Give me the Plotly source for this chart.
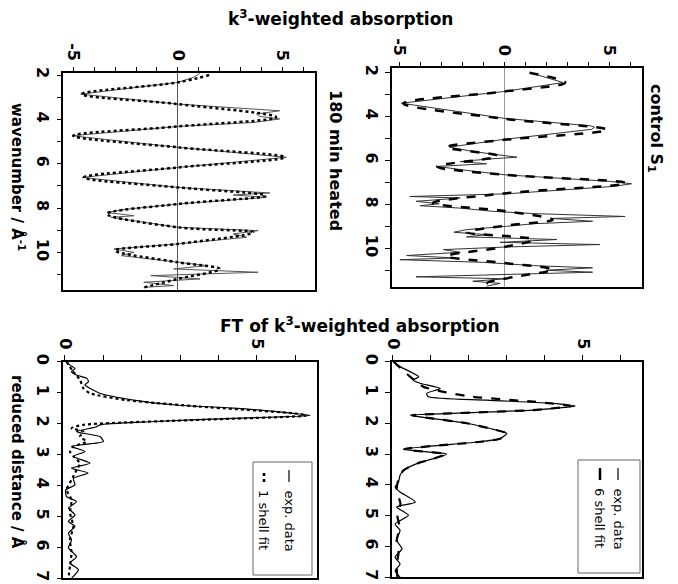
import plotly.graph_objects as go

# page body has an 8px margin, so the figure is drawn 8px in from the top-left corner
OFF = 8
W, H = 678 - OFF, 584 - OFF

# ---------------- data ----------------
# 180 min heated, k-space (wavenumber / value)
heat_exp_k = [1.92, 2.1, 2.33, 2.86, 3.31, 3.61, 3.76, 3.86, 3.98, 4.14, 4.32, 4.74, 5.26, 5.71, 6.17,
              6.62, 7.07, 7.32, 7.41, 7.52, 7.82, 8.05, 8.2, 8.35, 8.42, 8.87, 9.02, 9.17, 9.32, 9.62,
              9.85, 10.0, 10.15, 10.45, 10.6, 10.75, 10.9, 11.05, 11.2, 11.35, 11.5, 11.58]
heat_exp_v = [1.06, 0.75, 0.0, -4.65, 0.0, 4.87, 3.76, 3.9, 4.87, 3.6, 0.0, -5.05, 0.0, 5.19, 0.0,
              -4.57, 0.0, 4.4, 2.65, 4.24, 0.0, -2.43, -3.38, -2.1, -3.2, 0.0, 3.84, 2.65, 3.3, 0.0,
              -3.06, -2.1, -2.7, 0.0, 1.4, -0.2, 3.84, -1.3, 1.06, -1.63, -0.2, -1.63]
heat_fit_k = [2.0, 2.33, 2.86, 3.31, 3.9, 4.32, 4.74, 5.26, 5.71, 6.17, 6.62, 7.07, 7.44, 7.82,
              8.27, 8.87, 9.1, 9.62, 9.92, 10.45, 10.75, 11.2, 11.58]
heat_fit_v = [1.5, 0.0, -4.6, 0.0, 4.7, 0.0, -5.0, 0.0, 5.1, 0.0, -4.5, 0.0, 4.2, 0.0,
              -3.4, 0.0, 3.6, 0.0, -3.0, 0.0, 2.0, 0.0, -1.6]

# control S1, k-space
ctrl_exp_k = [2.0, 2.45, 2.86, 3.39, 4.08, 4.42, 4.48, 4.58, 5.06, 5.39, 5.59, 5.74, 5.85, 5.94, 6.05,
              6.15, 6.27, 6.45, 6.65, 6.95, 7.06, 7.18, 7.52, 7.64, 7.71, 7.86, 7.97, 8.06, 8.17, 8.32,
              8.42, 8.55, 8.64, 8.77, 8.88, 9.0, 9.15, 9.27, 9.38, 9.48, 9.6, 9.73, 9.83, 9.94, 10.06,
              10.18, 10.33, 10.44, 10.52, 10.64, 10.79, 10.89, 11.0, 11.09, 11.2, 11.3, 11.39, 11.5,
              11.6, 11.73]
ctrl_exp_v = [1.22, 2.8, -0.05, -4.9, 0.0, 4.1, 4.3, 4.15, -0.2, -2.6, -1.5, -0.2, 0.6, -0.85, -2.1,
              -0.85, -3.2, -1.8, 0.0, 5.0, 6.06, 5.2, 0.1, -4.5, -2.1, -4.2, -3.1, -4.0, -2.1, -0.5,
              1.4, 5.75, 2.3, 4.2, 1.4, 0.1, -1.8, -2.4, -0.85, -1.8, 2.5, -0.2, 4.55, 0.1, -2.9,
              -2.1, -4.65, -2.3, -4.97, -1.0, 1.4, 4.2, 2.0, 4.2, -0.85, -4.2, 0.1, -1.5, -0.2, -0.85]
ctrl_fit_k = [2.0, 2.45, 2.86, 3.4, 4.1, 4.6, 5.06, 5.4, 5.8, 6.27, 6.65, 7.03, 7.5, 7.94, 8.3,
              8.7, 8.95, 9.27, 9.6, 9.94, 10.36, 10.67, 10.97, 11.3, 11.58, 11.73]
ctrl_fit_v = [1.2, 2.9, 0.0, -4.8, 0.0, 4.9, 0.0, -2.75, -0.3, -3.2, 0.0, 5.8, 0.0, -3.4, 0.0,
              2.3, 0.2, -1.8, 1.4, 0.0, -2.75, 0.0, 2.3, 0.5, -0.8, -0.5]

# 180 min heated, FT (reduced distance / magnitude)
heat_ft_exp_r = [0.0, 0.11, 0.22, 0.32, 0.43, 0.54, 0.65, 0.75, 0.86, 1.02, 1.24, 1.4, 1.5, 1.67, 1.74,
                 1.83, 1.94, 2.04, 2.11, 2.26, 2.42, 2.58, 2.74, 2.9, 3.06, 3.28, 3.44, 3.6, 3.77, 3.98,
                 4.14, 4.36, 4.52, 4.73, 4.95, 5.16, 5.32, 5.54, 5.76, 6.02, 6.3, 6.51, 6.72, 7.0]
heat_ft_exp_v = [0.04, 0.13, 0.26, 0.17, 0.3, 0.57, 0.61, 0.52, 0.65, 0.91, 1.78, 2.9, 4.4, 5.96, 6.4,
                 4.4, 2.2, 0.91, 0.8, 0.3, 0.91, 1.0, 0.17, 0.52, 0.22, 0.65, 0.17, 0.6, 0.22, 0.26,
                 0.02, 0.04, 0.3, 0.09, 0.26, 0.09, 0.26, 0.09, 0.17, 0.09, 0.3, 0.13, 0.35, 0.17]
heat_ft_fit_r = [0.0, 0.3, 0.59, 0.86, 1.02, 1.24, 1.45, 1.67, 1.74, 1.88, 2.04, 2.15, 2.26, 2.42,
                 2.58, 2.74, 2.9, 3.06, 3.28, 3.5, 3.82, 4.14, 4.46, 4.89, 5.32, 5.75, 6.18, 6.61, 7.0]
heat_ft_fit_v = [0.04, 0.2, 0.39, 0.48, 0.65, 1.6, 3.5, 5.96, 6.3, 3.5, 0.48, 0.17, 0.48, 0.39,
                 0.56, 0.22, 0.13, 0.22, 0.39, 0.3, 0.17, 0.04, 0.17, 0.13, 0.22, 0.13, 0.17, 0.13, 0.09]

# control S1, FT
ctrl_ft_exp_r = [0.0, 0.16, 0.33, 0.49, 0.6, 0.7, 0.87, 1.03, 1.14, 1.25, 1.36, 1.44, 1.57, 1.68, 1.74,
                 1.85, 2.0, 2.17, 2.33, 2.5, 2.6, 2.84, 2.93, 3.0, 3.15, 3.31, 3.53, 3.69, 3.91, 4.07,
                 4.23, 4.56, 4.72, 4.99, 5.27, 5.48, 5.8, 6.08, 6.35, 6.57, 6.79, 7.0]
ctrl_ft_exp_v = [0.02, 0.19, 0.46, 0.68, 0.54, 0.72, 1.25, 0.89, 0.94, 2.47, 4.3, 4.8, 3.7, 1.5, 0.46,
                 1.07, 1.95, 2.56, 3.0, 2.82, 2.3, 0.28, 0.9, 1.42, 1.07, 0.63, 0.28, 0.19, 0.15, 0.06,
                 0.19, 0.59, 0.1, 0.41, 0.06, 0.19, 0.1, 0.24, 0.06, 0.19, 0.06, 0.19]
ctrl_ft_fit_r = [0.0, 0.49, 0.81, 0.98, 1.14, 1.3, 1.44, 1.57, 1.68, 1.74, 1.85, 2.0, 2.17, 2.33, 2.5,
                 2.6, 2.84, 2.93, 3.0, 3.15, 3.31, 3.53, 3.8, 4.2, 4.6, 5.0, 5.4, 5.8, 6.2, 6.6, 7.0]
ctrl_ft_fit_v = [0.02, 0.46, 0.8, 1.33, 2.1, 3.7, 4.67, 3.7, 1.5, 0.5, 1.07, 1.95, 2.56, 3.0, 2.82,
                 2.3, 0.3, 0.9, 1.4, 1.07, 0.63, 0.28, 0.15, 0.1, 0.2, 0.12, 0.18, 0.1, 0.15, 0.1, 0.12]

k_ticks = [-5, 0, 5]
k_ticktext = ["-5", "0", "5"]
ft_ticks = [0, 5]
ft_ticktext = ["0", "5"]

# ---------------- figure ----------------
fig = go.Figure()

def PX(x):
    return (x - OFF) / W

def PY(y):
    return 1 - (y - OFF) / H

def px_dom_x(a, b):
    return [PX(a), PX(b)]

def px_dom_y(top, bottom):
    return [PY(bottom), PY(top)]

fig.add_trace(go.Scatter(x=heat_exp_v, y=heat_exp_k, mode="lines", xaxis="x", yaxis="y",
                         line=dict(color="#555", width=1), showlegend=False))
fig.add_trace(go.Scatter(x=heat_fit_v, y=heat_fit_k, mode="lines", xaxis="x", yaxis="y",
                         line=dict(color="black", width=2.5, dash="dot", shape="spline", smoothing=1.0),
                         showlegend=False))
fig.add_trace(go.Scatter(x=ctrl_exp_v, y=ctrl_exp_k, mode="lines", xaxis="x2", yaxis="y2",
                         line=dict(color="#333", width=1), showlegend=False))
fig.add_trace(go.Scatter(x=ctrl_fit_v, y=ctrl_fit_k, mode="lines", xaxis="x2", yaxis="y2",
                         line=dict(color="black", width=2.5, dash="dash", shape="spline", smoothing=1.0),
                         showlegend=False))
fig.add_trace(go.Scatter(x=heat_ft_exp_v, y=heat_ft_exp_r, mode="lines", xaxis="x3", yaxis="y3",
                         line=dict(color="black", width=1.2, shape="spline", smoothing=0.6), showlegend=False))
fig.add_trace(go.Scatter(x=heat_ft_fit_v, y=heat_ft_fit_r, mode="lines", xaxis="x3", yaxis="y3",
                         line=dict(color="black", width=2.2, dash="dot", shape="spline", smoothing=0.6),
                         showlegend=False))
fig.add_trace(go.Scatter(x=ctrl_ft_exp_v, y=ctrl_ft_exp_r, mode="lines", xaxis="x4", yaxis="y4",
                         line=dict(color="black", width=1.2, shape="spline", smoothing=0.6), showlegend=False))
fig.add_trace(go.Scatter(x=ctrl_ft_fit_v, y=ctrl_ft_fit_r, mode="lines", xaxis="x4", yaxis="y4",
                         line=dict(color="black", width=2.2, dash="dash", shape="spline", smoothing=0.6),
                         showlegend=False))

tickfont = dict(family="DejaVu Sans", size=16, color="black", weight="bold")

def vaxis(dom, rng, tickvals, ticktext, zero, zcol, anchor):
    return dict(domain=dom, range=rng, side="top", tickmode="array", tickvals=tickvals,
                ticktext=ticktext, anchor=anchor, automargin=False,
                ticks="outside", ticklen=5, tickwidth=1, tickcolor="black",
                minor=dict(dtick=1, tick0=0, ticks="outside", ticklen=5, tickwidth=1, tickcolor="black"),
                tickangle=90, tickfont=tickfont, showline=True, linecolor="black", linewidth=1.5,
                mirror=True, showgrid=False, zeroline=zero, zerolinecolor=zcol, zerolinewidth=1)

def kaxis(dom, rng, anchor, dtick, minor):
    d = dict(domain=dom, range=rng, anchor=anchor, tick0=0, dtick=dtick, automargin=False,
             ticks="outside", ticklen=5, tickwidth=1, tickcolor="black",
             tickangle=90, tickfont=tickfont, showline=True, linecolor="black", linewidth=1.5,
             mirror=True, showgrid=False, zeroline=False)
    if minor:
        d["minor"] = dict(dtick=1, tick0=0, ticks="outside", ticklen=5, tickwidth=1, tickcolor="black")
    return d

fig.update_layout(
    width=W, height=H, margin=dict(l=0, r=0, t=0, b=0, autoexpand=False),
    paper_bgcolor="white", plot_bgcolor="white",
    xaxis=vaxis(px_dom_x(63.3, 315), [-5.48, 6.56], k_ticks, k_ticktext, True, "#555", "y"),
    yaxis=kaxis(px_dom_y(73.3, 290), [11.70, 1.92], "x", 2, True),
    xaxis2=vaxis(px_dom_x(391.7, 641.7), [-5.36, 6.54], k_ticks, k_ticktext, True, "#999", "y2"),
    yaxis2=kaxis(px_dom_y(68.3, 286.7), [11.75, 1.80], "x2", 2, True),
    xaxis3=vaxis(px_dom_x(63.3, 316.7), [-0.044, 6.56], ft_ticks, ft_ticktext, False, "#999", "y3"),
    yaxis3=kaxis(px_dom_y(361.7, 578.3), [7, 0], "x3", 1, False),
    xaxis4=vaxis(px_dom_x(391.7, 641.7), [-0.03, 6.55], ft_ticks, ft_ticktext, False, "#999", "y4"),
    yaxis4=kaxis(px_dom_y(361.7, 577.3), [7.003, 0], "x4", 1, False),
)

def ann(text, xp, yp, size, angle=0, bold=True):
    fig.add_annotation(text=text, x=PX(xp), y=PY(yp), xref="paper", yref="paper",
                       showarrow=False, textangle=angle, xanchor="center", yanchor="middle",
                       font=dict(family="DejaVu Sans", size=size, color="black",
                                 weight="bold" if bold else "normal"))

ann("k<sup>3</sup>-weighted absorption", 340, 18, 17)
ann("FT of k<sup>3</sup>-weighted absorption", 360, 325, 17)
ann("wavenumber / Å<sup>-1</sup>", 18, 177, 15, 90)
ann("180 min heated", 335, 160, 16, 90)
ann("control S<sub>1</sub>", 656, 128, 16, 90)
ann("reduced distance / Å", 18, 462, 15, 90)

def legend(x0, x1, y0, y1, col1, col2, label2, dash):
    fig.add_shape(type="rect", xref="paper", yref="paper", x0=PX(x0), x1=PX(x1),
                  y0=PY(y1), y1=PY(y0), line=dict(color="#666", width=1), fillcolor="white",
                  layer="above")
    fig.add_shape(type="line", xref="paper", yref="paper", x0=PX(col1), x1=PX(col1),
                  y0=PY(y0 + 20), y1=PY(y0 + 8), line=dict(color="black", width=1.2))
    fig.add_shape(type="line", xref="paper", yref="paper", x0=PX(col2), x1=PX(col2),
                  y0=PY(y0 + 20), y1=PY(y0 + 8),
                  line=dict(color="black", width=2.5, dash=dash))
    for xc, t in [(col1, "exp. data"), (col2, label2)]:
        fig.add_annotation(text=t, x=PX(xc), y=PY(y0 + 26), xref="paper", yref="paper",
                           showarrow=False, textangle=90, xanchor="center", yanchor="top",
                           font=dict(family="DejaVu Sans", size=13, color="black"))

legend(253, 312, 462, 575, 289, 264, "1 shell fit", "dot")
legend(578, 640, 460, 573, 618, 600, "6 shell fit", "solid")

fig.write_html("out.html")
